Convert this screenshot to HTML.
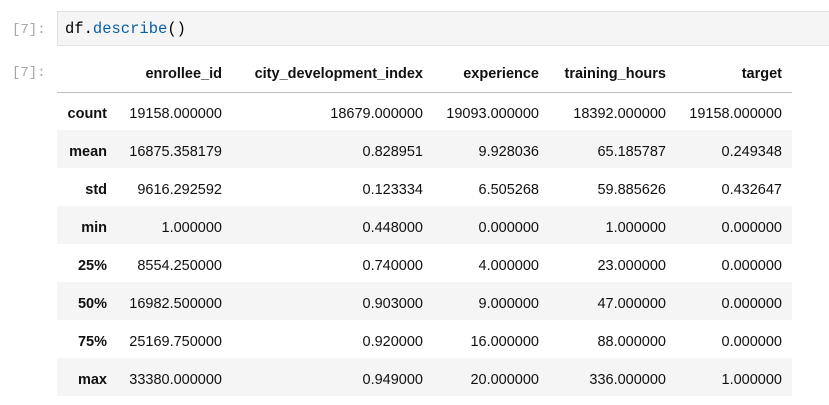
<!DOCTYPE html>
<html><head><meta charset="utf-8"><style>
body{margin:0;width:829px;height:405px;background:#fff;overflow:hidden;font-family:"Liberation Sans",sans-serif;position:relative}
.prompt{position:absolute;left:12px;font-family:"Liberation Mono",monospace;font-size:14px;color:#a8a8a8}
.code{position:absolute;left:57px;top:11px;width:780px;height:35px;background:#f5f5f5;border:1px solid #e0e0e0;box-sizing:border-box;font-family:"Liberation Mono",monospace;font-size:15.5px;line-height:35px;padding-left:7px;color:#000}
.fn{color:#0a5fa8}
table{position:absolute;left:57px;top:56px;border-collapse:collapse;table-layout:fixed;font-size:14.5px;color:#111}
td,th{text-align:right;padding:0 10px 0 0;white-space:nowrap}
th{font-weight:bold;color:#111}
thead tr{height:36px}
thead th{border-bottom:1px solid #bdbdbd}
tbody tr{height:38px}
tbody td,tbody th{padding-top:6px;box-sizing:border-box}
tbody tr:nth-child(even){background:#f5f5f5}
</style></head><body>
<div class="prompt" style="top:22px">[7]:</div>
<div class="code">df.<span class="fn">describe</span>()</div>
<div class="prompt" style="top:65px">[7]:</div>
<table>
<colgroup><col style="width:60px"><col style="width:115px"><col style="width:201px"><col style="width:116px"><col style="width:127px"><col style="width:116px"></colgroup>
<thead><tr><th></th><th>enrollee_id</th><th>city_development_index</th><th>experience</th><th>training_hours</th><th>target</th></tr></thead>
<tbody>
<tr><th>count</th><td>19158.000000</td><td>18679.000000</td><td>19093.000000</td><td>18392.000000</td><td>19158.000000</td></tr>
<tr><th>mean</th><td>16875.358179</td><td>0.828951</td><td>9.928036</td><td>65.185787</td><td>0.249348</td></tr>
<tr><th>std</th><td>9616.292592</td><td>0.123334</td><td>6.505268</td><td>59.885626</td><td>0.432647</td></tr>
<tr><th>min</th><td>1.000000</td><td>0.448000</td><td>0.000000</td><td>1.000000</td><td>0.000000</td></tr>
<tr><th>25%</th><td>8554.250000</td><td>0.740000</td><td>4.000000</td><td>23.000000</td><td>0.000000</td></tr>
<tr><th>50%</th><td>16982.500000</td><td>0.903000</td><td>9.000000</td><td>47.000000</td><td>0.000000</td></tr>
<tr><th>75%</th><td>25169.750000</td><td>0.920000</td><td>16.000000</td><td>88.000000</td><td>0.000000</td></tr>
<tr><th>max</th><td>33380.000000</td><td>0.949000</td><td>20.000000</td><td>336.000000</td><td>1.000000</td></tr>
</tbody></table>
</body></html>
